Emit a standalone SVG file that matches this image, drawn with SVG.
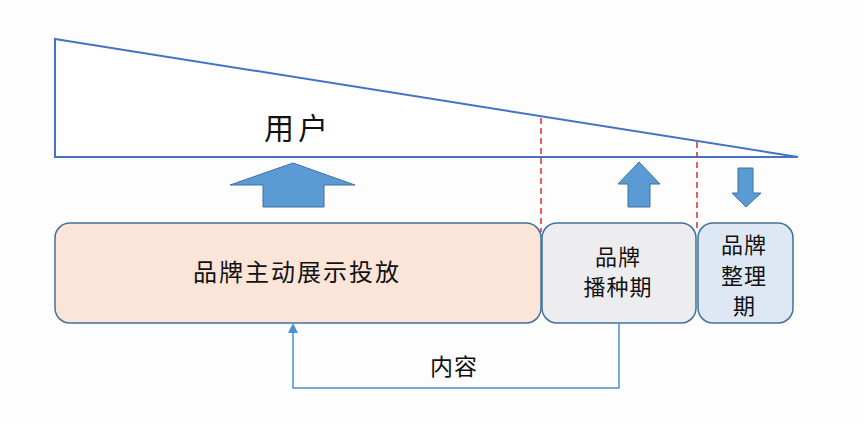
<svg xmlns="http://www.w3.org/2000/svg" width="864" height="424" viewBox="0 0 864 424">
<defs>
<style>
.t{font-family:"Noto Sans CJK SC","Noto Sans",sans-serif;fill:#111;text-anchor:middle}
.box{stroke:#41719C;stroke-width:1.5}
.blk{fill:#5B9BD5;stroke:#41719C;stroke-width:1}
.red{stroke:#D03030;stroke-width:1.5;stroke-dasharray:6 4;fill:none}
</style>
</defs>
<rect width="864" height="424" fill="#FDFDFE"/>
<g id="users">
<path d="M55,39 L798,157 L55,157 Z" fill="#FFFFFF" stroke="#4472C4" stroke-width="2" stroke-linejoin="miter"/>
<text class="t" x="298" y="139" font-size="30" letter-spacing="4">用户</text>
</g>
<g id="arrow-big"><path class="blk" d="M293,163 L355,185 L324,185 L324,207 L263,207 L263,185 L230,185 Z"/></g>
<g id="arrow-up"><path class="blk" d="M639,162 L660,184 L650,184 L650,207 L628,207 L628,184 L618,184 Z"/></g>
<g id="arrow-down"><path class="blk" d="M738,168 L753,168 L753,193 L761,193 L746,207 L732,193 L738,193 Z"/></g>
<g id="dividers">
<line class="red" x1="541" y1="118" x2="541" y2="232"/>
<line class="red" x1="697" y1="142" x2="697" y2="232"/>
</g>
<g id="box-active">
<rect class="box" x="55" y="223" width="486" height="100" rx="15" fill="#FBE5D9"/>
<text class="t" x="297" y="281" font-size="24" letter-spacing="2">品牌主动展示投放</text>
</g>
<g id="box-seed">
<rect class="box" x="542" y="223" width="154" height="100" rx="15" fill="#EDEDF0"/>
<text class="t" x="618" y="265" font-size="22" letter-spacing="1">品牌</text>
<text class="t" x="618" y="295" font-size="22" letter-spacing="1">播种期</text>
</g>
<g id="box-tidy">
<rect class="box" x="698" y="223" width="95" height="100" rx="15" fill="#DEE8F5"/>
<text class="t" x="744" y="253" font-size="22" letter-spacing="1">品牌</text>
<text class="t" x="744" y="284" font-size="22" letter-spacing="1">整理</text>
<text class="t" x="744" y="314" font-size="22">期</text>
</g>
<g id="connectors">
<path d="M619,323 L619,388 L293,388 L293,326" fill="none" stroke="#4A8FD8" stroke-width="1.5"/>
<path d="M293,323 L298,333 L288,333 Z" fill="#4A8FD8"/>
<text class="t" x="454" y="375" font-size="23" letter-spacing="1">内容</text>
</g>
</svg>
